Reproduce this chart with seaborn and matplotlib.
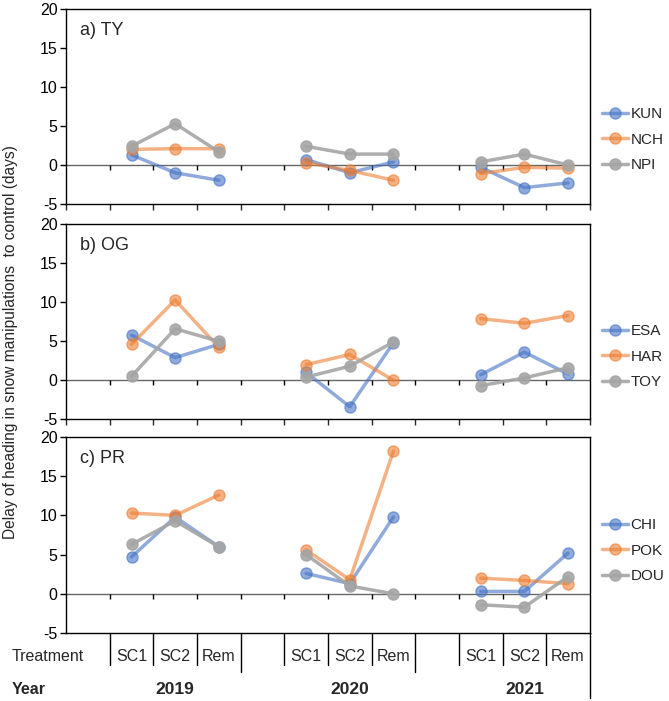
import numpy as np
import pandas as pd
import matplotlib.pyplot as plt
import matplotlib.colors as mcolors
import seaborn as sns
from matplotlib.lines import Line2D

# categories
years = [2019, 2020, 2021]
treatments = ["SC1", "SC2", "Rem"]

# a) TY  (values per year: SC1, SC2, Rem)
ty_names = ["KUN", "NCH", "NPI"]
kun = [1.3, -1.0, -1.95, 0.7, -1.0, 0.4, -0.3, -2.9, -2.3]
nch = [2.0, 2.1, 2.1, 0.3, -0.7, -1.95, -1.1, -0.3, -0.4]
npi = [2.4, 5.3, 1.7, 2.4, 1.4, 1.4, 0.4, 1.4, 0.0]

# b) OG
og_names = ["ESA", "HAR", "TOY"]
esa = [5.8, 2.9, 4.6, 1.0, -3.4, 4.8, 0.7, 3.6, 0.8]
har = [4.6, 10.3, 4.2, 2.0, 3.3, 0.0, 7.9, 7.3, 8.3]
toy = [0.5, 6.6, 5.0, 0.4, 1.8, 4.9, -0.7, 0.3, 1.6]

# c) PR
pr_names = ["CHI", "POK", "DOU"]
chi = [4.7, 9.8, 6.0, 2.6, 1.3, 9.8, 0.3, 0.3, 5.2]
pok = [10.3, 10.0, 12.6, 5.6, 1.8, 18.2, 2.0, 1.7, 1.3]
dou = [6.3, 9.3, 6.0, 5.0, 1.0, 0.0, -1.4, -1.7, 2.2]

panel_titles = ["a) TY", "b) OG", "c) PR"]
panel_series = [
    (ty_names, [kun, nch, npi]),
    (og_names, [esa, har, toy]),
    (pr_names, [chi, pok, dou]),
]
colors = ["#4472C4", "#ED7D31", "#A5A5A5"]
alphas = {"#4472c4": 0.6, "#ed7d31": 0.6, "#a5a5a5": 0.9}
legend_y = [0.33, 0.32, 0.42]


def long_table(names, series):
    rows = []
    for name, vals in zip(names, series):
        for yi, yr in enumerate(years):
            for ti, tr in enumerate(treatments):
                rows.append({"line": name, "year": yr, "treatment": tr,
                             "pos": 4 * yi + ti + 1.5,
                             "value": vals[yi * 3 + ti]})
    return pd.DataFrame(rows)


sns.set_theme(style="ticks")
plt.rcParams["font.family"] = ["Liberation Sans", "DejaVu Sans"]
plt.rcParams["axes.unicode_minus"] = False

fig = plt.figure(figsize=(6.69, 7.01), dpi=100)
ax_boxes = [
    [0.0987, 0.709, 0.783, 0.278],
    [0.0987, 0.402, 0.783, 0.278],
    [0.0987, 0.097, 0.783, 0.2796],
]
axes = [fig.add_axes(b) for b in ax_boxes]

for k, ax in enumerate(axes):
    names, series = panel_series[k]
    df = long_table(names, series)
    ax.axhline(0, color="black", lw=1, zorder=1)
    ax.vlines(range(1, 12), -0.6, 0, color="black", lw=1, zorder=1)
    sns.lineplot(data=df, x="pos", y="value", hue="line", units="year",
                 estimator=None, sort=False, palette=colors, marker="o",
                 markersize=8, linewidth=2.5, alpha=0.6, legend=False, ax=ax)
    for ln in ax.lines:
        c = mcolors.to_hex(ln.get_color())
        ln.set_markeredgecolor(ln.get_color())
        ln.set_markeredgewidth(1)
        ln.set_alpha(alphas.get(c, 0.6))

    ax.set_xlim(0, 12)
    ax.set_ylim(-5, 20)
    ax.set_yticks(range(-5, 21, 5))
    ax.set_xlabel("")
    ax.set_ylabel("")
    for s in ax.spines.values():
        s.set_visible(True)
        s.set_color("black")
        s.set_linewidth(1)
    ax.tick_params(axis="y", direction="out", length=4, width=1,
                   labelsize=11.5, pad=2, colors="black")
    if k < 2:
        ax.set_xticks(range(0, 13))
        ax.tick_params(axis="x", direction="out", length=4, width=1,
                       labelbottom=False)
    else:
        ax.set_xticks([])

    ax.text(0.027, 0.89, panel_titles[k], transform=ax.transAxes,
            fontsize=13, va="center", ha="left")

    handles = [Line2D([], [], color=c, marker="o", markersize=8, lw=2.5,
                      alpha=alphas[c.lower()], markeredgecolor=c)
               for c in colors]
    ax.legend(handles, names, loc="center left",
              bbox_to_anchor=(1.0, legend_y[k]), frameon=False,
              fontsize=11, handlelength=1.7, handletextpad=0.15,
              labelspacing=0.75, borderaxespad=0.4)

# treatment / year category axis under panel c
axc = axes[2]
tr = axc.get_xaxis_transform()
for yi, yr in enumerate(years):
    for ti, lab in enumerate(treatments):
        x0 = 4 * yi + ti + 1
        axc.plot([x0, x0], [0, -0.163], transform=tr, color="black",
                 lw=1, clip_on=False)
        axc.text(x0 + 0.5, -0.122, lab, transform=tr, ha="center",
                 va="center", fontsize=11.5)
    xe = 4 * yi + 4
    axc.plot([xe, xe], [0, -0.33 if yi == 2 else -0.2], transform=tr,
             color="black", lw=1, clip_on=False)
    axc.text(4 * yi + 2.5, -0.286, str(yr), transform=tr, ha="center",
             va="center", fontsize=12.5, fontweight="bold")

fig.text(0.018, 0.063, "Treatment", ha="left", va="center", fontsize=11.5)
fig.text(0.018, 0.017, "Year", ha="left", va="center", fontsize=11.5,
         fontweight="bold")
fig.text(0.015, 0.512,
         "Delay of heading in snow manipulations  to control (days)",
         rotation=90, ha="center", va="center", fontsize=11.2)

fig.savefig("out.png", dpi=100)
